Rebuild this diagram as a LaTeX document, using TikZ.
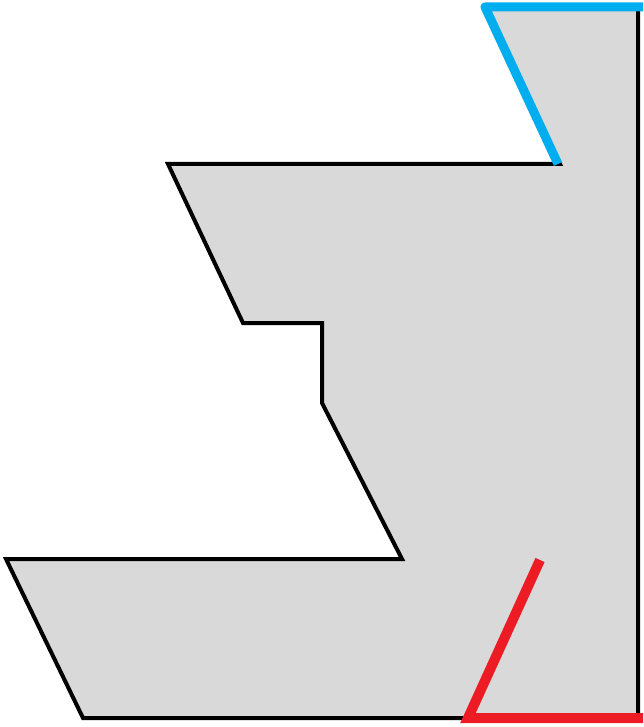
\documentclass[tikz,border=0pt]{standalone}
\begin{document}
\begin{tikzpicture}[x=1pt,y=-1pt,
  outline/.style={draw=black,line width=4pt,line join=miter,fill={rgb,255:red,217;green,217;blue,217}},
  bluepath/.style={draw={rgb,255:red,0;green,174;blue,239},line width=9pt,line join=round},
  redpath/.style={draw={rgb,255:red,237;green,28;blue,36},line width=10pt,line join=miter}]
\useasboundingbox (0,0) rectangle (643,727);
\coordinate (tl) at (485,7);
\coordinate (tr) at (638,7);
\coordinate (br) at (638,718);
\coordinate (bl) at (83,718);
\coordinate (a) at (6,559);
\coordinate (b) at (402,559);
\coordinate (c) at (322,403);
\coordinate (d) at (322,323);
\coordinate (e) at (243,323);
\coordinate (f) at (168,164);
\coordinate (g) at (560,164);
\draw[outline] (tl) -- (tr) -- (br) -- (bl) -- (a) -- (b) -- (c) -- (d) -- (e) -- (f) -- (g) -- cycle;
\draw[bluepath] (558,164) -- (tl) -- (643,7);
\coordinate (r1) at (540,560);
\coordinate (r2) at (468,718);
\draw[redpath] (r1) -- (r2) -- (643,718);
\end{tikzpicture}
\end{document}
